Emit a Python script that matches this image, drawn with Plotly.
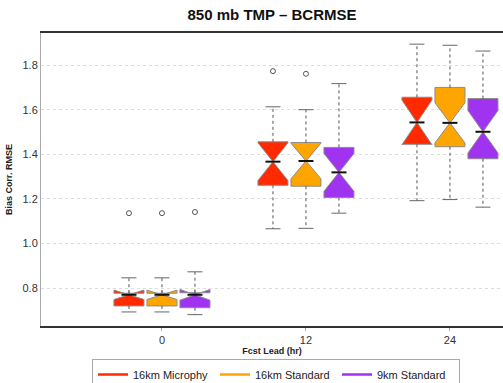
import plotly.graph_objects as go

# ---- data ----
leads = [0, 12, 24]
tick_labels = ["0", "12", "24"]
series_names = ["16km Microphy", "16km Standard", "9km Standard"]
series_colors = ["#ff2a00", "#ffa500", "#a033f0"]

q1 = {
    "16km Microphy": [0.720, 1.261, 1.445],
    "16km Standard": [0.720, 1.257, 1.434],
    "9km Standard": [0.712, 1.206, 1.380],
}
median = {
    "16km Microphy": [0.770, 1.367, 1.543],
    "16km Standard": [0.770, 1.370, 1.541],
    "9km Standard": [0.770, 1.319, 1.501],
}
q3 = {
    "16km Microphy": [0.777, 1.456, 1.656],
    "16km Standard": [0.777, 1.453, 1.700],
    "9km Standard": [0.779, 1.431, 1.650],
}
lower_whisker = {
    "16km Microphy": [0.693, 1.066, 1.192],
    "16km Standard": [0.693, 1.068, 1.197],
    "9km Standard": [0.681, 1.136, 1.163],
}
upper_whisker = {
    "16km Microphy": [0.846, 1.613, 1.894],
    "16km Standard": [0.846, 1.600, 1.889],
    "9km Standard": [0.873, 1.717, 1.863],
}
notch = {
    "16km Microphy": [0.021, 0.085, 0.10],
    "16km Standard": [0.021, 0.080, 0.09],
    "9km Standard": [0.024, 0.085, 0.095],
}
outliers = {
    "16km Microphy": ([0], [1.136]),
    "16km Standard": ([0], [1.136]),
    "9km Standard": ([0], [1.141]),
}
outliers_12 = {
    "16km Microphy": [1.773],
    "16km Standard": [1.761],
    "9km Standard": [],
}

# ---- layout constants ----
offsets = [-2.75, 0.0, 2.75]
box_w = 2.5
half = box_w / 2
notch_w = 0.5
cap_half = half * 0.5
font = "Liberation Sans, Arial, sans-serif"

fig = go.Figure()

for k, name in enumerate(series_names):
    col = series_colors[k]
    xs = [l + offsets[k] for l in leads]
    fig.add_trace(go.Box(
        x=xs, q1=q1[name], median=median[name], q3=q3[name],
        lowerfence=q1[name], upperfence=q3[name],
        notchspan=notch[name], notched=True, notchwidth=notch_w,
        width=box_w, whiskerwidth=0,
        fillcolor=col, line=dict(color="#8c8c8c", width=1),
        boxpoints=False, showlegend=False, hoverinfo="skip",
    ))
    # dotted whiskers
    wx, wy, cx, cy, mx, my = [], [], [], [], [], []
    for i, x in enumerate(xs):
        wx += [x, x, None, x, x, None]
        wy += [q3[name][i], upper_whisker[name][i], None,
               q1[name][i], lower_whisker[name][i], None]
        for v in (upper_whisker[name][i], lower_whisker[name][i]):
            cx += [x - cap_half, x + cap_half, None]
            cy += [v, v, None]
        mx += [x - half * (1 - notch_w), x + half * (1 - notch_w), None]
        my += [median[name][i], median[name][i], None]
    fig.add_trace(go.Scatter(x=wx, y=wy, mode="lines",
                             line=dict(color="#555555", width=1, dash="dot"),
                             showlegend=False, hoverinfo="skip"))
    fig.add_trace(go.Scatter(x=cx, y=cy, mode="lines",
                             line=dict(color="#666666", width=1),
                             showlegend=False, hoverinfo="skip"))
    fig.add_trace(go.Scatter(x=mx, y=my, mode="lines",
                             line=dict(color="#111111", width=2),
                             showlegend=False, hoverinfo="skip"))
    ox = [leads[i] + offsets[k] for i in outliers[name][0]]
    oy = list(outliers[name][1])
    ox += [leads[1] + offsets[k]] * len(outliers_12[name])
    oy += outliers_12[name]
    fig.add_trace(go.Scatter(x=ox, y=oy, mode="markers",
                             marker=dict(symbol="circle-open", size=5,
                                         color="#555555", line=dict(width=1)),
                             showlegend=False, hoverinfo="skip"))

for k, name in enumerate(series_names):
    fig.add_trace(go.Scatter(x=[None], y=[None], mode="lines", name=name,
                             line=dict(color=series_colors[k], width=2.5)))

fig.update_layout(
    width=503, height=383,
    margin=dict(l=41, r=0, t=33, b=57, autoexpand=False),
    paper_bgcolor="white", plot_bgcolor="white",
    boxmode="overlay",
    font=dict(family=font, size=11, color="#222222"),
    title=dict(text="<b>850 mb TMP \u2013 BCRMSE</b>", x=0.5, xref="paper",
               xanchor="center", y=1 - 15 / 383, yanchor="middle",
               font=dict(size=15, color="#111111", family=font)),
    xaxis=dict(range=[-10.08, 28.42], tickvals=leads, ticktext=tick_labels,
               showgrid=False, zeroline=False, automargin=False,
               showline=True, linecolor="#333333", linewidth=1.5, mirror=True,
               ticks="outside", ticklen=3, tickcolor="#aaaaaa",
               tickfont=dict(size=11, color="#333333"),
               title=dict(text="<b>Fcst Lead (hr)</b>", standoff=1,
                          font=dict(size=9, color="#222222"))),
    yaxis=dict(range=[0.630, 1.944], tickvals=[0.8, 1.0, 1.2, 1.4, 1.6, 1.8],
               ticktext=["0.8", "1.0", "1.2", "1.4", "1.6", "1.8"],
               showgrid=True, gridcolor="#dddddd", griddash="dot", gridwidth=1,
               zeroline=False, showline=True, linecolor="#aaaaaa", linewidth=1,
               automargin=False,
               ticks="", tickfont=dict(size=11, color="#333333"),
               title=dict(text="<b>Bias Corr. RMSE</b>", standoff=8,
                          font=dict(size=9, color="#222222"))),
    legend=dict(orientation="h", x=(92 - 41) / 462, xanchor="left",
                y=-(359 - 326) / 293, yanchor="top",
                bordercolor="#aaaaaa", borderwidth=1,
                font=dict(size=11, color="#222222"),
                entrywidth=77, entrywidthmode="pixels",
                itemwidth=30),
)

fig.write_html("out.html",
               config={"displayModeBar": False},
               post_script="document.body.style.margin='0';"
                           "document.body.style.overflow='hidden';")
